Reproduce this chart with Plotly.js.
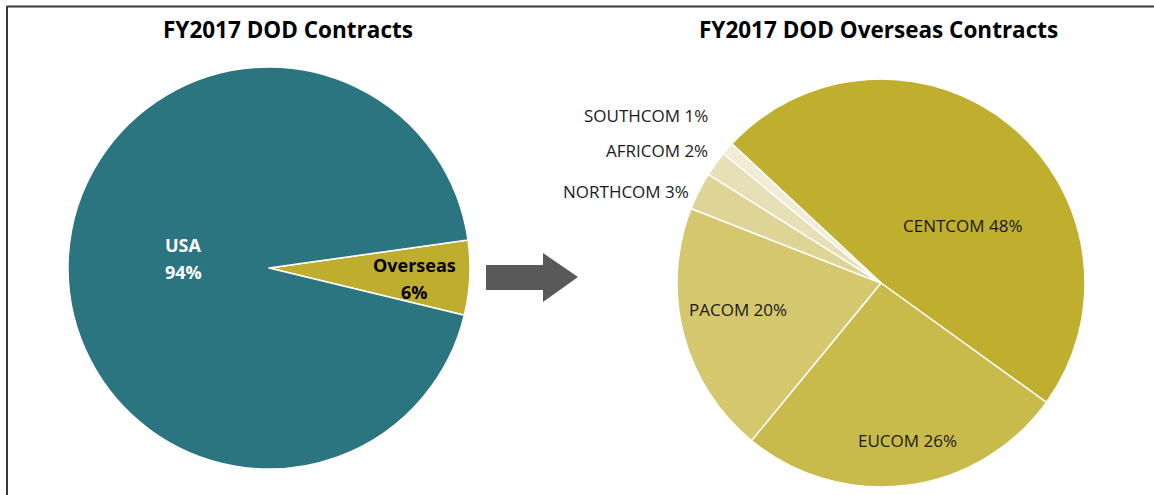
<!DOCTYPE html>
<html>
<head>
<meta charset="utf-8">
<script src="https://cdn.plot.ly/plotly-3.0.1.min.js"></script>
<style>html,body{margin:0;padding:0;background:#fff;}#chart{width:1154px;height:495px;}</style>
</head>
<body>
<div id="chart"></div>
<script>
// ---- data ----
const mainLabels = ['Overseas', 'USA'];
const mainValues = [6, 94];
const overseasLabels = ['CENTCOM', 'EUCOM', 'PACOM', 'NORTHCOM', 'AFRICOM', 'SOUTHCOM'];
const overseasValues = [48, 26, 20, 3, 2, 1];
const titles = ['FY2017 DOD Contracts', 'FY2017 DOD Overseas Contracts'];

// ---- styles ----
const mainColors = ['#BFAE2E', '#2B7580'];
const overseasColors = ['#C0AF2F', '#C9BB4B', '#D4C76D', '#DDD495', '#E7E0B6', '#F0ECD5'];

const W = 1154, H = 495;
const X = px => px / W;
const Y = py => 1 - py / H;

// label positions (pixels) – layout only
const mainLabelPos = [[414, 278.5, 'black'], [184, 258.5, 'white']];
const overseasLabelPos = [
  [962, 225, 'center'], [907, 440, 'center'], [738, 309, 'center'],
  [691, 191, 'right'], [710, 151, 'right'], [710, 116, 'right']
];

const font = '"Open Sans", "Noto Sans", sans-serif';

const data = [
  {
    type: 'pie', labels: mainLabels, values: mainValues, sort: false,
    direction: 'clockwise', rotation: 82,
    marker: {colors: mainColors, line: {color: '#ffffff', width: 1.5}},
    textinfo: 'none', hoverinfo: 'label+percent',
    domain: {x: [X(68), X(470)], y: [Y(469), Y(67)]},
    showlegend: false
  },
  {
    type: 'pie', labels: overseasLabels, values: overseasValues, sort: false,
    direction: 'clockwise', rotation: 313,
    marker: {colors: overseasColors, line: {color: '#ffffff', width: 1.5}},
    textinfo: 'none', hoverinfo: 'label+percent',
    domain: {x: [X(677), X(1085)], y: [Y(487), Y(79)]},
    showlegend: false
  }
];

const annotations = [];
annotations.push({text: '<b>' + titles[0] + '</b>', x: X(288), y: Y(30), xref: 'paper', yref: 'paper',
  showarrow: false, font: {family: font, size: 22.5, color: '#000'}, xanchor: 'center', yanchor: 'middle'});
annotations.push({text: '<b>' + titles[1] + '</b>', x: X(878), y: Y(30), xref: 'paper', yref: 'paper',
  showarrow: false, font: {family: font, size: 22.5, color: '#000'}, xanchor: 'center', yanchor: 'middle'});

mainLabels.forEach((l, i) => {
  const p = mainLabelPos[i];
  const lines = [l, mainValues[i] + '%'];
  lines.forEach((t, j) => {
    annotations.push({text: '<b>' + t + '</b>', x: X(p[0]), y: Y(p[1] + (j === 0 ? -13.5 : 13.5)),
      xref: 'paper', yref: 'paper', showarrow: false, align: 'center',
      font: {family: font, size: 18, color: p[2]}, xanchor: 'center', yanchor: 'middle'});
  });
});
overseasLabels.forEach((l, i) => {
  const p = overseasLabelPos[i];
  annotations.push({text: l + ' ' + overseasValues[i] + '%', x: X(p[0]), y: Y(p[1]),
    xref: 'paper', yref: 'paper', showarrow: false,
    font: {family: font, size: 17, color: '#1a1a1a'}, xanchor: p[2], yanchor: 'middle'});
});

const arrowPts = [[486, 265], [543, 265], [543, 253], [578, 277], [543, 302], [543, 290], [486, 290]];
const arrowPath = 'M ' + arrowPts.map(p => X(p[0]) + ',' + Y(p[1])).join(' L ') + ' Z';

const shapes = [
  {type: 'path', xref: 'paper', yref: 'paper', path: arrowPath, fillcolor: '#595959', line: {width: 0}},
  {type: 'line', xref: 'paper', yref: 'paper', x0: X(7), x1: 1, y0: Y(6.5), y1: Y(6.5), line: {color: '#3a3a3a', width: 2}},
  {type: 'line', xref: 'paper', yref: 'paper', x0: X(7), x1: X(7), y0: Y(6), y1: 0, line: {color: '#3a3a3a', width: 2}}
];

const layout = {
  width: W, height: H,
  margin: {l: 0, r: 0, t: 0, b: 0},
  paper_bgcolor: '#ffffff', plot_bgcolor: '#ffffff',
  showlegend: false,
  annotations: annotations, shapes: shapes
};

Plotly.newPlot('chart', data, layout, {displayModeBar: false, staticPlot: true});
</script>
</body>
</html>
